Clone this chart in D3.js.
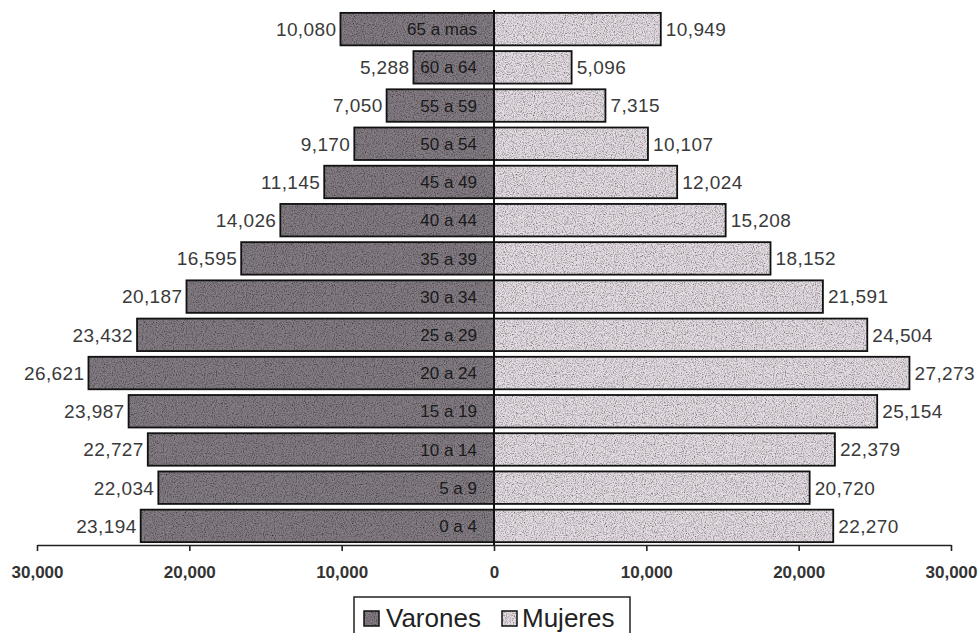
<!DOCTYPE html>
<html>
<head>
<meta charset="utf-8">
<script src="https://cdn.jsdelivr.net/npm/d3@7"></script>
<style>
  body { margin: 0; background: #fff; }
  svg { display: block; }
  .axis path, .axis line { stroke: #222; stroke-width: 1.6; }
  .axis text { font-family: "Liberation Sans", Arial, sans-serif; font-weight: bold; font-size: 17px; fill: #333; }
  .val { font-family: "Liberation Sans", Arial, sans-serif; font-size: 19px; letter-spacing: 0.4px; fill: #3a3a3a; }
  .age { font-family: "Liberation Sans", Arial, sans-serif; font-size: 17px; fill: #1a1a1a; }
  .legend text { font-family: "Liberation Sans", Arial, sans-serif; font-size: 26px; fill: #222; }
</style>
</head>
<body>
<div id="chart"></div>
<script>
  // age groups, bottom to top
  var ageGroups = ["0 a 4", "5 a 9", "10 a 14", "15 a 19", "20 a 24", "25 a 29", "30 a 34",
                   "35 a 39", "40 a 44", "45 a 49", "50 a 54", "55 a 59", "60 a 64", "65 a mas"];
  var varones = [23194, 22034, 22727, 23987, 26621, 23432, 20187, 16595, 14026, 11145, 9170, 7050, 5288, 10080];
  var mujeres = [22270, 20720, 22379, 25154, 27273, 24504, 21591, 18152, 15208, 12024, 10107, 7315, 5096, 10949];
  var tickValues = [-30000, -20000, -10000, 0, 10000, 20000, 30000];
  var seriesNames = ["Varones", "Mujeres"];

  var width = 978, height = 633;
  var maleColor = "#847d84", femaleColor = "#e4dde3";

  var svg = d3.select("#chart").append("svg")
    .attr("width", width)
    .attr("height", height);

  // speckled grain like the scanned bars
  var defs = svg.append("defs");
  var grain = defs.append("filter").attr("id", "grain")
    .attr("x", 0).attr("y", 0).attr("width", 1).attr("height", 1);
  grain.append("feTurbulence")
    .attr("type", "fractalNoise").attr("baseFrequency", 0.9)
    .attr("numOctaves", 2).attr("seed", 3).attr("result", "noise");
  grain.append("feColorMatrix").attr("in", "noise").attr("type", "matrix")
    .attr("values", "0 0 0 0 0  0 0 0 0 0  0 0 0 0 0  1.8 0 0 0 -0.75")
    .attr("result", "dots");
  grain.append("feComposite").attr("in", "dots").attr("in2", "SourceGraphic")
    .attr("operator", "in").attr("result", "specks");
  var merge = grain.append("feMerge");
  merge.append("feMergeNode").attr("in", "SourceGraphic");
  merge.append("feMergeNode").attr("in", "specks");

  var x = d3.scaleLinear().domain([-30000, 30000]).range([37, 951]);
  var y = d3.scaleBand()
    .domain(ageGroups.slice().reverse())
    .range([10, 545])
    .paddingInner(0.15)
    .paddingOuter(0.075);

  var rows = ageGroups.map(function (g, i) {
    return { age: g, m: varones[i], f: mujeres[i] };
  });
  var fmt = d3.format(",");

  // bars: fill (with grain) then outline
  var bars = svg.append("g");
  bars.selectAll("rect.male")
    .data(rows).enter().append("rect")
      .attr("class", "male")
      .attr("x", d => x(-d.m))
      .attr("y", d => y(d.age))
      .attr("width", d => x(0) - x(-d.m))
      .attr("height", y.bandwidth())
      .attr("fill", maleColor)
      .attr("filter", "url(#grain)");
  bars.selectAll("rect.female")
    .data(rows).enter().append("rect")
      .attr("class", "female")
      .attr("x", x(0))
      .attr("y", d => y(d.age))
      .attr("width", d => x(d.f) - x(0))
      .attr("height", y.bandwidth())
      .attr("fill", femaleColor)
      .attr("filter", "url(#grain)");

  bars.selectAll("rect.outm")
    .data(rows).enter().append("rect")
      .attr("x", d => x(-d.m))
      .attr("y", d => y(d.age))
      .attr("width", d => x(0) - x(-d.m))
      .attr("height", y.bandwidth())
      .attr("fill", "none").attr("stroke", "#111").attr("stroke-width", 1.8);
  bars.selectAll("rect.outf")
    .data(rows).enter().append("rect")
      .attr("x", x(0))
      .attr("y", d => y(d.age))
      .attr("width", d => x(d.f) - x(0))
      .attr("height", y.bandwidth())
      .attr("fill", "none").attr("stroke", "#111").attr("stroke-width", 1.8);

  // centre line
  svg.append("line")
    .attr("x1", x(0)).attr("x2", x(0))
    .attr("y1", 10).attr("y2", 545)
    .attr("stroke", "#111").attr("stroke-width", 2);

  // value labels
  svg.selectAll("text.vm")
    .data(rows).enter().append("text")
      .attr("class", "val")
      .attr("x", d => x(-d.m) - 4)
      .attr("y", d => y(d.age) + y.bandwidth() / 2)
      .attr("dy", "0.36em")
      .attr("text-anchor", "end")
      .text(d => fmt(d.m));
  svg.selectAll("text.vf")
    .data(rows).enter().append("text")
      .attr("class", "val")
      .attr("x", d => x(d.f) + 5)
      .attr("y", d => y(d.age) + y.bandwidth() / 2)
      .attr("dy", "0.36em")
      .text(d => fmt(d.f));

  // age labels inside the male bars
  svg.selectAll("text.age")
    .data(rows).enter().append("text")
      .attr("class", "age")
      .attr("x", x(0) - 17)
      .attr("y", d => y(d.age) + y.bandwidth() / 2)
      .attr("dy", "0.36em")
      .attr("text-anchor", "end")
      .text(d => d.age);

  // x axis
  var xAxis = d3.axisBottom(x)
    .tickValues(tickValues)
    .tickFormat(d => fmt(Math.abs(d)))
    .tickSizeInner(6)
    .tickSizeOuter(0)
    .tickPadding(15);
  svg.append("g")
    .attr("class", "axis")
    .attr("transform", "translate(0,545)")
    .call(xAxis);

  // legend
  var legend = svg.append("g").attr("class", "legend");
  legend.append("rect")
    .attr("x", 354).attr("y", 597)
    .attr("width", 276).attr("height", 50)
    .attr("fill", "#fff").attr("stroke", "#222").attr("stroke-width", 1.5);
  var items = [
    { name: seriesNames[0], color: maleColor, x: 364, tx: 386 },
    { name: seriesNames[1], color: femaleColor, x: 502, tx: 522 }
  ];
  items.forEach(function (it) {
    legend.append("rect")
      .attr("x", it.x).attr("y", 611)
      .attr("width", 15).attr("height", 15)
      .attr("fill", it.color).attr("filter", "url(#grain)");
    legend.append("rect")
      .attr("x", it.x).attr("y", 611)
      .attr("width", 15).attr("height", 15)
      .attr("fill", "none").attr("stroke", "#111").attr("stroke-width", 1.5);
    legend.append("text")
      .attr("x", it.tx).attr("y", 627)
      .text(it.name);
  });
</script>
</body>
</html>
